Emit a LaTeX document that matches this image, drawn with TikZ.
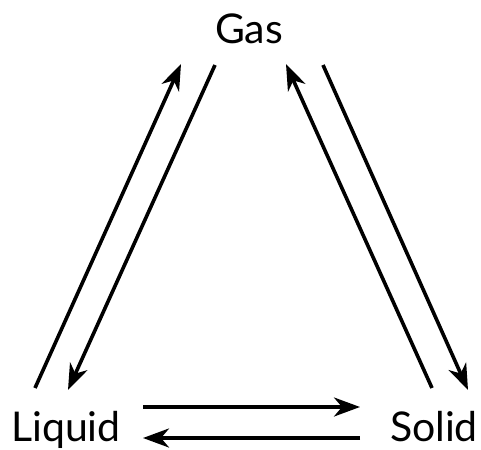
\documentclass[tikz,border=0pt]{standalone}
\usepackage{fontspec}
\setmainfont{Lato}
\usetikzlibrary{arrows.meta}
\begin{document}
\begin{tikzpicture}[x=1pt,y=-1pt,
  lbl/.style={font=\fontsize{41}{44}\selectfont, inner sep=0pt, anchor=base},
  arr/.style={line width=3.6pt, -{Stealth[length=26pt,width=19pt,inset=8pt]}}]
\useasboundingbox (0,0) rectangle (481,449);
\node[lbl] (gas) at (249,44) {Gas};
\node[lbl] (liquid) at (66,441) {Liquid};
\node[lbl] (solid) at (434,441) {Solid};
\coordinate (l1s) at (35,388); \coordinate (l1e) at (181,64);
\coordinate (l2s) at (215,65); \coordinate (l2e) at (68,390);
\coordinate (r1s) at (432,388); \coordinate (r1e) at (286,64);
\coordinate (r2s) at (323,65); \coordinate (r2e) at (468,390);
\coordinate (b1s) at (143,407); \coordinate (b1e) at (360,407);
\coordinate (b2s) at (360,438); \coordinate (b2e) at (143,438);
\draw[arr] (l1s) -- (l1e);
\draw[arr] (l2s) -- (l2e);
\draw[arr] (r1s) -- (r1e);
\draw[arr] (r2s) -- (r2e);
\draw[arr] (b1s) -- (b1e);
\draw[arr] (b2s) -- (b2e);
\end{tikzpicture}
\end{document}
